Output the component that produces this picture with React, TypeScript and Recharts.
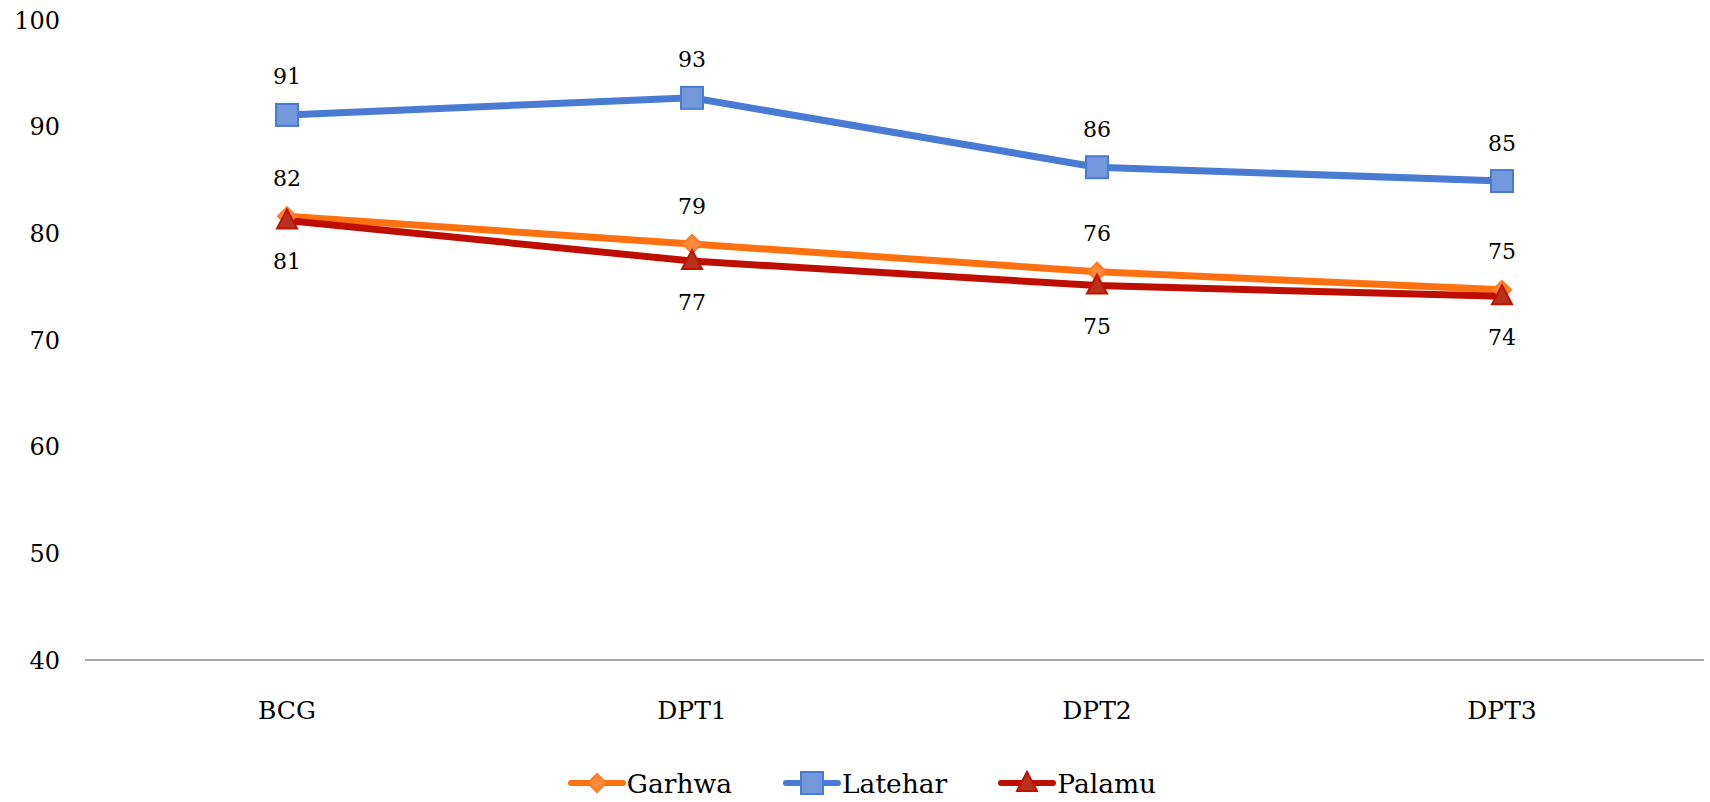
import React from 'react';
import { LineChart, Line, XAxis, YAxis, Legend, LabelList } from 'recharts';

const categories = ['BCG', 'DPT1', 'DPT2', 'DPT3'];
const garhwa = [81.6, 79.0, 76.4, 74.7];
const latehar = [91.1, 92.7, 86.2, 84.9];
const palamu = [81.2, 77.4, 75.1, 74.1];
const yTicks = [40, 50, 60, 70, 80, 90, 100];

const data = categories.map((name, i) => ({
  name,
  Garhwa: garhwa[i],
  Latehar: latehar[i],
  Palamu: palamu[i],
}));

const FONT = '"DejaVu Serif", serif';

const COLORS = {
  Garhwa: { line: '#ff7110', fill: '#ff8a3c', stroke: '#ff7a20' },
  Latehar: { line: '#4a7bd3', fill: '#7398dc', stroke: '#4a7bd4' },
  Palamu: { line: '#bd0e00', fill: '#b8301e', stroke: '#c21200' },
};

type Shape = 'diamond' | 'square' | 'triangle';

function Marker({ cx, cy, shape, fill, stroke }: { cx: number; cy: number; shape: Shape; fill: string; stroke: string }) {
  if (cx == null || cy == null) return null;
  if (shape === 'square') {
    return <rect x={cx - 11} y={cy - 11} width={22} height={22} fill={fill} stroke={stroke} strokeWidth={2} />;
  }
  if (shape === 'diamond') {
    const s = 9;
    return (
      <polygon
        points={`${cx},${cy - s} ${cx + s},${cy} ${cx},${cy + s} ${cx - s},${cy}`}
        fill={fill}
        stroke={stroke}
        strokeWidth={2}
      />
    );
  }
  return (
    <polygon
      points={`${cx},${cy - 11} ${cx + 10},${cy + 8} ${cx - 10},${cy + 8}`}
      fill={fill}
      stroke={stroke}
      strokeWidth={2}
    />
  );
}

const makeDot = (shape: Shape, fill: string, stroke: string) => (props: any) => (
  <Marker key={`${shape}-${props.index}`} cx={props.cx} cy={props.cy} shape={shape} fill={fill} stroke={stroke} />
);

const makeLabel = (dy: number) => (props: any) => {
  const { x, y, value } = props;
  return (
    <text x={x} y={y + dy} textAnchor="middle" dominantBaseline="central" fontFamily={FONT} fontSize={22} fill="#000">
      {Math.round(Number(value))}
    </text>
  );
};

const legendItems: { name: keyof typeof COLORS; shape: Shape }[] = [
  { name: 'Garhwa', shape: 'diamond' },
  { name: 'Latehar', shape: 'square' },
  { name: 'Palamu', shape: 'triangle' },
];

function CustomLegend() {
  return (
    <div style={{ display: 'flex', justifyContent: 'center', alignItems: 'center', height: 36, gap: 50, marginLeft: 4 }}>
      {legendItems.map((it) => {
        const c = COLORS[it.name];
        return (
          <div key={it.name} style={{ display: 'flex', alignItems: 'center' }}>
            <svg width={60} height={30}>
              <line x1={4} y1={15} x2={56} y2={15} stroke={c.line} strokeWidth={6} strokeLinecap="round" />
              <Marker cx={30} cy={15} shape={it.shape} fill={c.fill} stroke={c.stroke} />
            </svg>
            <span style={{ fontFamily: FONT, fontSize: 26.5, color: '#000' }}>{it.name}</span>
          </div>
        );
      })}
    </div>
  );
}

export default function App() {
  return (
    <div style={{ position: 'absolute', left: 0, top: 0, width: 1710, height: 802, background: '#fff' }}>
      <LineChart width={1710} height={802} data={data} margin={{ top: 20, right: 6, left: 15, bottom: 1 }}>
        <XAxis
          dataKey="name"
          padding={{ left: 202, right: 202 }}
          axisLine={{ stroke: '#8c8c8c', strokeWidth: 1.5 }}
          tickLine={false}
          tickSize={0}
          tickMargin={41}
          height={105}
          tick={{ fill: '#000', fontSize: 25, fontFamily: FONT }}
        />
        <YAxis
          domain={[40, 100]}
          ticks={yTicks}
          axisLine={false}
          tickLine={false}
          tickSize={0}
          tickMargin={25}
          width={70}
          interval={0}
          tick={{ fill: '#000', fontSize: 24, fontFamily: FONT }}
        />
        <Legend verticalAlign="bottom" height={36} content={() => <CustomLegend />} />
        <Line
          dataKey="Garhwa"
          stroke={COLORS.Garhwa.line}
          strokeWidth={7}
          dot={makeDot('diamond', COLORS.Garhwa.fill, COLORS.Garhwa.stroke)}
          activeDot={false}
          isAnimationActive={false}
        >
          <LabelList dataKey="Garhwa" content={makeLabel(-38)} />
        </Line>
        <Line
          dataKey="Latehar"
          stroke={COLORS.Latehar.line}
          strokeWidth={7}
          dot={makeDot('square', COLORS.Latehar.fill, COLORS.Latehar.stroke)}
          activeDot={false}
          isAnimationActive={false}
        >
          <LabelList dataKey="Latehar" content={makeLabel(-38)} />
        </Line>
        <Line
          dataKey="Palamu"
          stroke={COLORS.Palamu.line}
          strokeWidth={7}
          dot={makeDot('triangle', COLORS.Palamu.fill, COLORS.Palamu.stroke)}
          activeDot={false}
          isAnimationActive={false}
        >
          <LabelList dataKey="Palamu" content={makeLabel(41)} />
        </Line>
      </LineChart>
    </div>
  );
}
